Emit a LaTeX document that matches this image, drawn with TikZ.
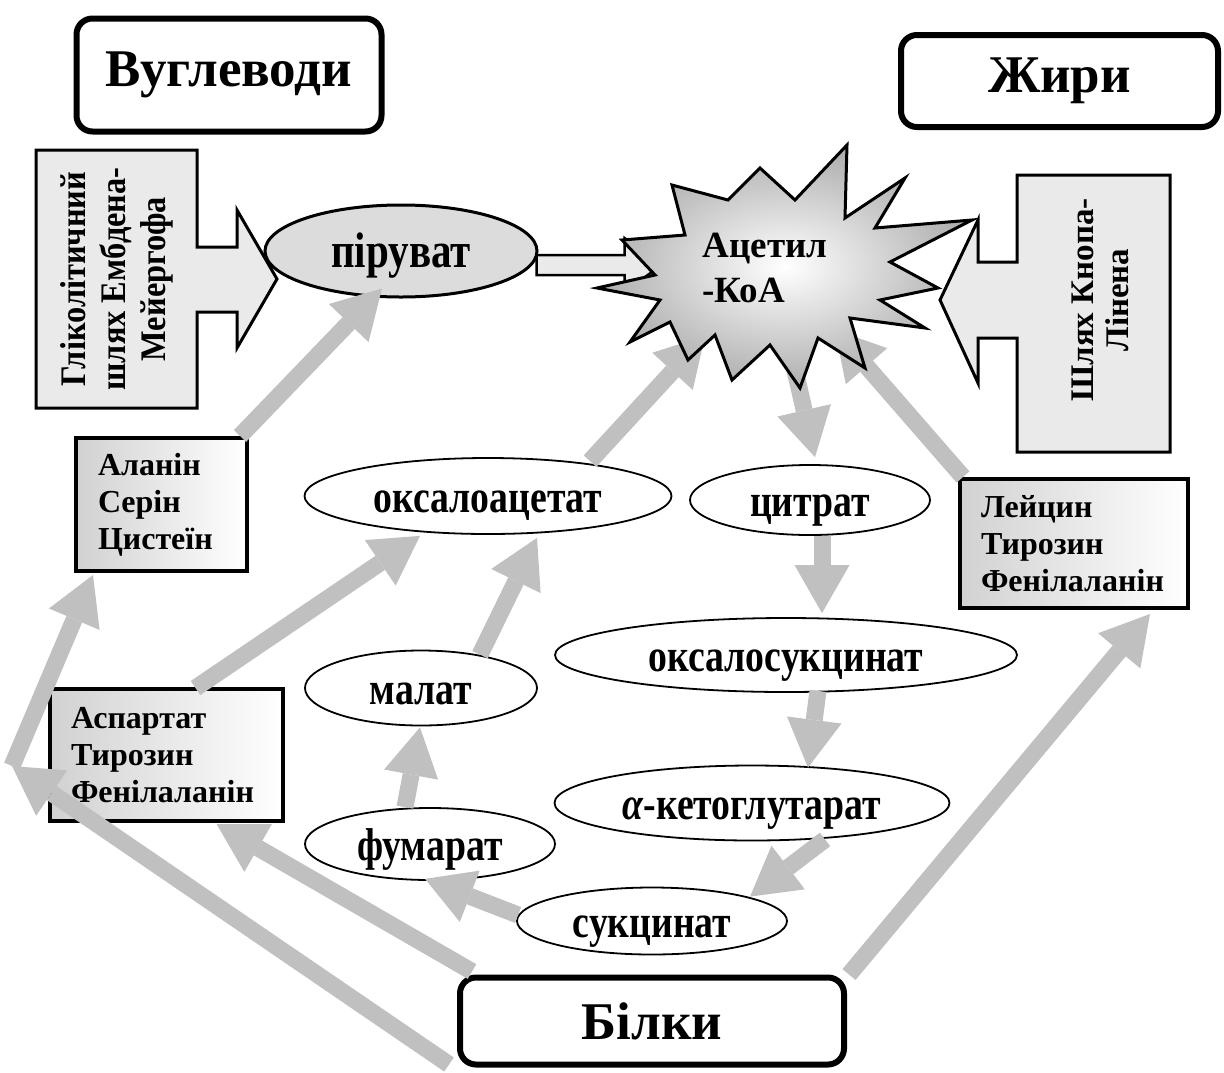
\documentclass[tikz,border=0pt]{standalone}
\usepackage{fontspec}
\setmainfont{Liberation Serif}
\newfontfamily\narrowSerif[FakeStretch=0.82]{Liberation Serif}
\newfontfamily\sideSerif[FakeStretch=0.9]{Liberation Serif}
\usetikzlibrary{shapes.geometric}
\usetikzlibrary{arrows.meta}
\definecolor{flowGray}{RGB}{192,192,192}
\definecolor{blockGray}{RGB}{234,234,234}
\definecolor{pyrGray}{RGB}{220,220,220}
\pgfdeclarelayer{foreground}
\pgfsetlayers{main,foreground}

\begin{document}
\begin{tikzpicture}[x=1pt,y=-1pt,
  title/.style={draw, line width=6pt, rounded corners=16pt, fill=white, inner sep=0pt, font=\fontsize{53}{60}\selectfont\bfseries},
  stage/.style={ellipse, draw, line width=1.8pt, fill=white, inner sep=0pt, text height=34pt, text depth=2pt, font=\narrowSerif\fontsize{46}{52}\selectfont\bfseries},
  amino/.style={draw, line width=4pt, left color=black!18, right color=white, inner sep=0pt, align=left, font=\fontsize{32}{37}\selectfont\bfseries},
  block/.style={draw, line width=3pt, line join=miter, fill=blockGray},
  flow/.style={draw=flowGray, line width=17pt, -{Triangle[length=48pt,width=55pt,line width=0pt]}},
]
\useasboundingbox (0,0) rectangle (1224,1072);

\node[title, minimum width=305pt, minimum height=113pt] (carbs) at (229,75) {Вуглеводи};
\node[title, minimum width=317pt, minimum height=92pt] (fats) at (1059.5,81) {Жири};

\draw[block] (36,150) -- (197,150) -- (197,247) -- (237,247) -- (237,210) -- (277,279) -- (237,348) -- (237,312) -- (197,312) -- (197,408) -- (36,408) -- cycle;
\node[rotate=90, align=center, font=\sideSerif\fontsize{36}{40}\selectfont\bfseries] (glyco) at (117,279) {Гліколітичний\\шлях Ембдена-\\Мейергофа};
\draw[block] (1170,175) -- (1017,175) -- (1017,262) -- (978,262) -- (978,220) -- (940,300) -- (978,383) -- (978,338) -- (1017,338) -- (1017,452) -- (1170,452) -- cycle;
\node[rotate=90, align=center, font=\fontsize{33}{35}\selectfont\bfseries] (knoop) at (1100,300) {Шлях Кнопа-\\Лінена};

\node[stage, fill=pyrGray, line width=3pt, minimum width=272pt, minimum height=92pt, font=\narrowSerif\fontsize{50}{56}\selectfont\bfseries] (pyruvate) at (401,251) {піруват};

\node[amino, minimum width=171pt, minimum height=133pt, text width=127pt] (alanine) at (161.5,504.5) {Аланін\\Серін\\Цистеїн};
\node[amino, minimum width=228pt, minimum height=129pt, text width=186pt] (leucine) at (1074,543.5) {Лейцин\\Тирозин\\Фенілаланін};
\node[amino, minimum width=233pt, minimum height=132pt, text width=191pt] (aspartate) at (166.5,755) {Аспартат\\Тирозин\\Фенілаланін};

\node[stage, minimum width=367pt, minimum height=76pt] (oxaloacetate) at (488,496) {оксалоацетат};
\node[stage, minimum width=240pt, minimum height=70pt] (citrate) at (810,500) {цитрат};
\node[stage, minimum width=462pt, minimum height=74pt] (oxalosuccinate) at (786,655) {оксалосукцинат};
\node[stage, minimum width=232pt, minimum height=75pt] (malate) at (421,688) {малат};
\node[stage, minimum width=395pt, minimum height=75pt] (ketoglutarate) at (752,803) {{\itshape α}-кетоглутарат};
\node[stage, minimum width=250pt, minimum height=72pt] (fumarate) at (430,844) {фумарат};
\node[stage, minimum width=270pt, minimum height=67pt] (succinate) at (652,921) {сукцинат};

\node[title, minimum width=384pt, minimum height=87pt] (proteins) at (652,1021) {Білки};
\coordinate (bend) at (12,766);

\begin{pgfonlayer}{foreground}
\shadedraw[inner color=white, outer color=black!32, line width=3pt, line join=miter]
  (597,288) -- (655,275) -- (622,240) -- (685,235) -- (672,185) -- (728,200) -- (760,168) -- (795,200)
  -- (847,145) -- (845,218) -- (905,178) -- (875,228) -- (972,220) -- (890,262) -- (938,288) -- (880,300)
  -- (925,328) -- (850,318) -- (865,368) -- (818,338) -- (800,388) -- (770,345) -- (732,380) -- (715,335)
  -- (688,360) -- (670,322) -- (630,342) -- (660,300) -- cycle;
\node[align=left, font=\fontsize{37}{45}\selectfont\bfseries] (acetyl) at (765,268) {Ацетил\\-КоА};
\end{pgfonlayer}

\draw[line width=2.5pt, line join=miter, fill=blockGray] ([shift={(-2,4)}]pyruvate.east) -- ++(88,0) -- ++(0,-17) -- ++(37,27) -- ++(-37,27) -- ++(0,-17) -- ++(-88,0) -- cycle;

\draw[flow] ([shift={(-9,0)}]alanine.north east) -- ([shift={(-19,-10)}]pyruvate.south);
\draw[flow] ([shift={(102,4)}]oxaloacetate.north) -- ([shift={(-60,68)}]acetyl.center);
\draw[flow] ([shift={(23,72)}]acetyl.center) -- ([shift={(5,-7)}]citrate.north);
\draw[flow] ([shift={(5,0)}]leucine.north west) -- ([shift={(70,62)}]acetyl.center);
\draw[flow] ([shift={(12,0)}]citrate.south) -- ([shift={(36,-4)}]oxalosuccinate.north);
\draw[flow] ([shift={(32,-2)}]oxalosuccinate.south) -- ([shift={(56,3)}]ketoglutarate.north);
\draw[flow] ([shift={(73,-2)}]ketoglutarate.south) -- ([shift={(98,10)}]succinate.north);
\draw[flow] ([shift={(2,-6)}]succinate.west) -- ([shift={(-5,-2)}]fumarate.south);
\draw[flow] ([shift={(-25,0)}]fumarate.north) -- ([shift={(-1,1)}]malate.south);
\draw[flow] ([shift={(59,5)}]malate.north) -- ([shift={(49,3)}]oxaloacetate.south);
\draw[flow] ([shift={(29,1)}]aspartate.north) -- ([shift={(-68,1)}]oxaloacetate.south);
\draw[flow] ([shift={(15,-3)}]proteins.north west) -- ([shift={(50,1)}]aspartate.south);
\draw[flow] ([shift={(-8,-3)}]proteins.south west) -- (bend);
\draw[flow] (bend) -- ([shift={(19,2)}]alanine.south west);
\draw[flow] ([shift={(2,0)}]proteins.north east) -- ([shift={(76,4)}]leucine.south);
\end{tikzpicture}
\end{document}
